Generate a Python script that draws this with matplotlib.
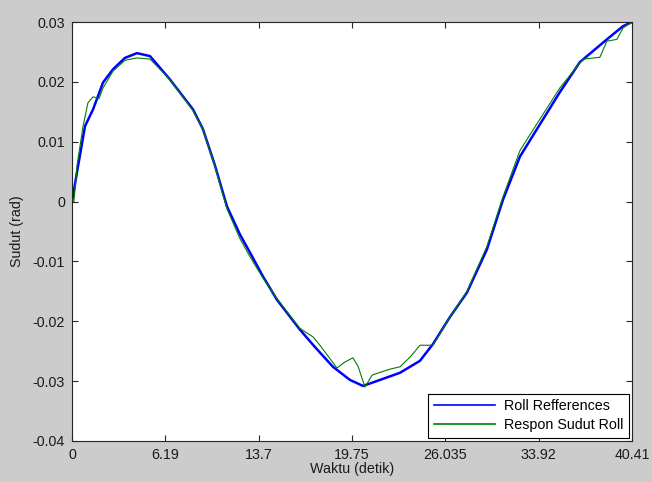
import matplotlib
matplotlib.use("Agg")
import matplotlib.pyplot as plt
import numpy as np

# Roll reference (blue)
t_ref = [0, 0.36, 0.94, 1.52, 2.24, 2.96, 3.82, 4.69, 5.63, 7.07, 8.73, 9.45, 10.32,
         11.18, 12.12, 12.84, 13.78, 14.79, 16.45, 17.53, 18.83, 20.06, 21.0, 22.22,
         23.67, 25.11, 26.05, 27.27, 28.5, 29.94, 31.1, 32.32, 33.55, 35.21, 36.65,
         38.6, 39.76, 40.41]
y_ref = [0, 0.0049, 0.0126, 0.0154, 0.0199, 0.0221, 0.0240, 0.0248, 0.0243, 0.0204,
         0.0154, 0.0121, 0.0060, -0.0008, -0.0055, -0.0085, -0.0125, -0.0164, -0.0214,
         -0.0243, -0.0276, -0.0298, -0.0308, -0.0298, -0.0286, -0.0266, -0.0238,
         -0.0193, -0.0152, -0.0080, 0.0003, 0.0075, 0.0121, 0.0183, 0.0233, 0.0271,
         0.0293, 0.0300]

# Roll response (green)
t_resp = [0, 0.14, 0.36, 0.79, 1.15, 1.52, 1.95, 2.24, 2.96, 3.82, 4.69, 5.63, 7.07,
          8.73, 9.45, 10.32, 11.18, 12.12, 12.84, 13.78, 14.79, 16.45, 17.39, 17.89,
          19.12, 19.70, 20.27, 20.64, 21.14, 21.65, 22.01, 22.94, 23.67, 24.39, 25.11,
          26.05, 27.27, 28.5, 29.94, 31.1, 32.32, 33.55, 35.21, 36.87, 38.09, 38.6,
          39.32, 39.76, 40.41]
y_resp = [0, 0.0, 0.006, 0.0125, 0.0165, 0.0175, 0.0172, 0.0190, 0.0218, 0.0236,
          0.0240, 0.0238, 0.0204, 0.0152, 0.0121, 0.0058, -0.0012, -0.0062, -0.0092,
          -0.0128, -0.0162, -0.0212, -0.0226, -0.0240, -0.0278, -0.0268, -0.0261,
          -0.0275, -0.0310, -0.0290, -0.0287, -0.0280, -0.0276, -0.0260, -0.0240,
          -0.0240, -0.0193, -0.0150, -0.0075, 0.0008, 0.0085, 0.0130, 0.0190, 0.0238,
          0.0241, 0.0268, 0.0271, 0.0290, 0.0300]

x_ticklabels = ["0", "6.19", "13.7", "19.75", "26.035", "33.92", "40.41"]
y_ticks = [-0.04, -0.03, -0.02, -0.01, 0, 0.01, 0.02, 0.03]
y_ticklabels = ["-0.04", "-0.03", "-0.02", "-0.01", "0", "0.01", "0.02", "0.03"]

plt.rcParams['font.family'] = ['Liberation Sans', 'DejaVu Sans']
FS = 10.3

fig = plt.figure(figsize=(6.52, 4.82), dpi=100, facecolor='#cccccc')
ax = fig.add_axes([72/652, 41/482, 560/652, 419/482])
ax.set_facecolor('white')

ax.plot(t_ref, y_ref, color=(0, 0, 1), lw=1.8, label='Roll Refferences')
ax.plot(t_resp, y_resp, color=(0, 0.5, 0), lw=0.8, label='Respon Sudut Roll')

ax.set_xlim(0, 40.41)
ax.set_ylim(-0.04, 0.03)
ax.set_xticks(np.linspace(0, 40.41, 7))
ax.set_xticklabels(x_ticklabels)
ax.set_yticks(y_ticks)
ax.set_yticklabels(y_ticklabels)
ax.tick_params(direction='in', top=True, right=True, labelsize=FS, length=4, width=0.8, pad=5,
               colors='#262626', labelcolor='#1a1a1a')
for s in ax.spines.values():
    s.set_linewidth(0.8)
    s.set_color('#262626')
ax.set_xlabel('Waktu (detik)', fontsize=FS, labelpad=0, color='#1a1a1a')
ax.set_ylabel('Sudut (rad)', fontsize=FS, labelpad=6, color='#1a1a1a')

leg = ax.legend(loc='lower right', fontsize=FS, fancybox=False, edgecolor='black',
                framealpha=1, borderaxespad=0.2, handlelength=4.3,
                borderpad=0.4, labelspacing=0.35, handletextpad=0.6)
leg.get_frame().set_linewidth(0.8)
for h in leg.get_lines():
    h.set_linewidth(1.2)

fig.savefig('out.png', dpi=100, facecolor=fig.get_facecolor())
